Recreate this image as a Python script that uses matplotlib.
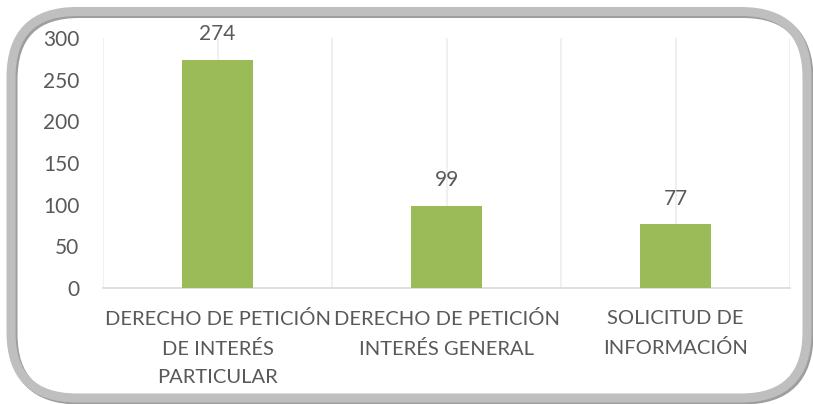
import matplotlib
matplotlib.use("Agg")
import matplotlib.pyplot as plt
from matplotlib.patches import FancyBboxPatch

categories = ["DERECHO DE PETICIÓN\nDE INTERÉS\nPARTICULAR",
              "DERECHO DE PETICIÓN\nINTERÉS GENERAL",
              "SOLICITUD DE\nINFORMACIÓN"]
values = [274, 99, 77]
y_ticks = [0, 50, 100, 150, 200, 250, 300]

GREEN = "#9BBB59"
TEXT = "#595959"

plt.rcParams["font.family"] = ["Lato", "DejaVu Sans"]

W, H = 813, 404
fig = plt.figure(figsize=(W / 100, H / 100), dpi=100)

# rounded frame drawn in pixel units
bg = fig.add_axes([0, 0, 1, 1])
bg.set_xlim(0, W)
bg.set_ylim(H, 0)
bg.axis("off")
shadow = FancyBboxPatch((13, 13.5), 796, 386.5,
                        boxstyle="round,pad=0,rounding_size=66",
                        fill=False, ec="#9E9E9E", lw=6.5)
bg.add_patch(shadow)
frame = FancyBboxPatch((11, 11.5), 796, 386.5,
                       boxstyle="round,pad=0,rounding_size=66",
                       fill=False, ec="#BFBFBF", lw=6.5)
bg.add_patch(frame)

ax = fig.add_axes([103 / W, (H - 288) / H, (790 - 103) / W, (288 - 38) / H])
x = list(range(len(categories)))
bars = ax.bar(x, values, width=0.314, color=GREEN, zorder=3)

for xi, v in zip(x, values):
    ax.annotate(str(v), (xi, v), xytext=(0, 11), textcoords="offset points",
                ha="center", va="bottom", fontsize=15, color=TEXT)

ax.set_xlim(-0.5, 2.5)
ax.set_ylim(0, 300)
ax.set_yticks(y_ticks)
ax.set_xticks(x)
ax.set_xticklabels(categories, fontsize=14.5, color=TEXT, linespacing=1.8)
ax.set_xticks([i - 0.5 for i in range(len(categories) + 1)], minor=True)
ax.tick_params(axis="y", length=0, pad=17, labelsize=15, labelcolor=TEXT)
ax.tick_params(axis="x", which="both", length=0, pad=16)
ax.grid(axis="x", which="both", color="#EEEEEE", lw=1.2, zorder=0)

for side in ["top", "right", "left"]:
    ax.spines[side].set_visible(False)
ax.spines["bottom"].set_color("#D9D9D9")
ax.spines["bottom"].set_linewidth(1.2)

fig.savefig("out.png", dpi=100)
